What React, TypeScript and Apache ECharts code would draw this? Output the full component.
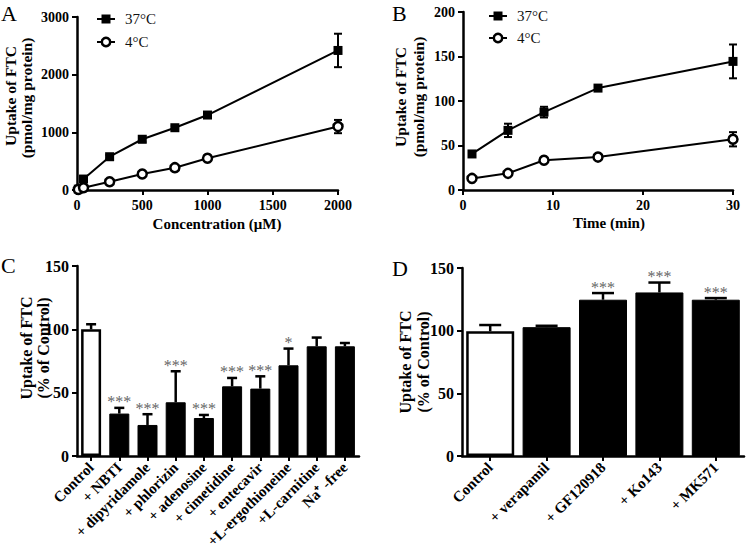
import React, { useEffect, useRef } from "react";
import * as echarts from "echarts";

// ---------- Data ----------
// Panel A: concentration dependence
const concA = [10, 50, 250, 500, 750, 1000, 2000];
const a37 = [15, 190, 577, 880, 1080, 1300, 2420];
const a37Err = [5, 40, 30, 50, 30, 30, 290];
const a4 = [10, 40, 144, 277, 387, 550, 1100];
const a4Err = [5, 10, 20, 20, 25, 50, 115];

// Panel B: time course
const timeB = [1, 5, 9, 15, 30];
const b37 = [40.5, 67, 87.5, 114.5, 144.5];
const b37Err = [2, 7.5, 6, 3, 19];
const b4 = [13, 18.7, 33.4, 37, 57];
const b4Err = [1.5, 1.5, 1.5, 1.5, 8];

// Panel C: inhibitors
const catsC = [
  "Control",
  "+ NBTI",
  "+ dipyridamole",
  "+ phlorizin",
  "+ adenosine",
  "+ cimetidine",
  "+ entecavir",
  "+L-ergothioneine",
  "+L-carnitine",
  "Na\u207A -free",
];
const valsC = [100, 33.5, 24.5, 42.4, 30, 55, 53.2, 71.6, 86.6, 86.6];
const errC = [4, 4.5, 8.5, 24.5, 2.4, 6.6, 9.7, 13.2, 6.9, 2.6];
const starsC = ["", "***", "***", "***", "***", "***", "***", "*", "", ""];

// Panel D: efflux inhibitors
const catsD = ["Control", "+ verapamil", "+ GF120918", "+ Ko143", "+ MK571"];
const valsD = [99.5, 102.8, 124.7, 130.5, 124.7];
const errD = [5, 1.1, 5.3, 7.9, 1.3];
const starsD = ["", "", "***", "***", "***"];

const FONT = '"Liberation Serif", "Times New Roman", serif';

function axisBase(fontSize: number) {
  return {
    axisLine: { show: true, onZero: false, lineStyle: { color: "#000", width: 2.5 } },
    axisTick: { show: true, length: 5, lineStyle: { color: "#000", width: 2 } },
    axisLabel: {
      color: "#000",
      fontFamily: FONT,
      fontWeight: "bold",
      fontSize,
      margin: 8,
      formatter: (v: any) => String(v),
    },
    splitLine: { show: false },
  };
}

function errRenderValue(capHalf: number) {
  return (params: any, api: any) => {
    const x = api.value(0);
    const lo = api.value(1);
    const hi = api.value(2);
    const a = api.coord([x, lo]);
    const b = api.coord([x, hi]);
    const st = { stroke: "#000", lineWidth: 2 };
    return {
      type: "group",
      children: [
        { type: "line", shape: { x1: a[0], y1: a[1], x2: b[0], y2: b[1] }, style: st },
        { type: "line", shape: { x1: a[0] - capHalf, y1: a[1], x2: a[0] + capHalf, y2: a[1] }, style: st },
        { type: "line", shape: { x1: b[0] - capHalf, y1: b[1], x2: b[0] + capHalf, y2: b[1] }, style: st },
      ],
    };
  };
}

function errRenderBar(capHalf: number) {
  return (params: any, api: any) => {
    const x = api.value(0);
    const v = api.value(1);
    const hi = api.value(2);
    const a = api.coord([x, v]);
    const b = api.coord([x, hi]);
    const st = { stroke: "#000", lineWidth: 2.5 };
    return {
      type: "group",
      children: [
        { type: "line", shape: { x1: a[0], y1: a[1], x2: b[0], y2: b[1] }, style: st },
        { type: "line", shape: { x1: b[0] - capHalf, y1: b[1], x2: b[0] + capHalf, y2: b[1] }, style: st },
      ],
    };
  };
}

function starRender(stars: string[]) {
  return (params: any, api: any) => {
    const s = stars[params.dataIndex];
    if (!s) return null;
    const p = api.coord([api.value(0), api.value(1)]);
    return {
      type: "text",
      x: p[0],
      y: p[1] - 6,
      style: {
        text: s,
        fill: "#666",
        fontSize: 16,
        fontFamily: FONT,
        align: "center",
        verticalAlign: "middle",
      },
    };
  };
}

function legendGraphic(x: number, y1: number, y2: number) {
  const tx = x + 28;
  return [
    { type: "line", shape: { x1: x, y1, x2: x + 18, y2: y1 }, style: { stroke: "#000", lineWidth: 2 } },
    { type: "rect", shape: { x: x + 4.5, y: y1 - 4.5, width: 9, height: 9 }, style: { fill: "#000" } },
    { type: "text", x: tx, y: y1, style: { text: "37°C", font: `15px ${FONT}`, fill: "#111", align: "left", verticalAlign: "middle" } },
    { type: "line", shape: { x1: x, y1: y2, x2: x + 18, y2: y2 }, style: { stroke: "#000", lineWidth: 2 } },
    { type: "circle", shape: { cx: x + 9, cy: y2, r: 4.2 }, style: { fill: "#fff", stroke: "#000", lineWidth: 2.5 } },
    { type: "text", x: tx, y: y2, style: { text: "4°C", font: `15px ${FONT}`, fill: "#111", align: "left", verticalAlign: "middle" } },
  ];
}

function vText(x: number, y: number, text: string, size = 15.5) {
  return {
    type: "text",
    x,
    y,
    rotation: Math.PI / 2,
    style: { text, font: `bold ${size}px ${FONT}`, fill: "#000", align: "center", verticalAlign: "middle" },
  };
}

function hText(x: number, y: number, text: string, font: string) {
  return { type: "text", x, y, style: { text, font, fill: "#000", align: "center", verticalAlign: "middle" } };
}

export default function App() {
  const ref = useRef<HTMLDivElement>(null);

  useEffect(() => {
    if (!ref.current) return;
    const chart = echarts.init(ref.current, undefined, { renderer: "svg" });

    const lineStyle = { color: "#000", width: 2 };
    const sq = {
      symbol: "rect",
      symbolSize: 9,
      itemStyle: { color: "#000" },
      lineStyle,
    };
    const circ = {
      symbol: "circle",
      symbolSize: 9,
      itemStyle: { color: "#fff", borderColor: "#000", borderWidth: 2.5 },
      lineStyle,
    };

    const baseAB = axisBase(14);
    const baseCD = axisBase(16);
    const catAxis = (gridIndex: number, data: string[]) => ({
      ...baseCD,
      gridIndex,
      type: "category",
      data,
      axisTick: { ...baseCD.axisTick, alignWithLabel: true, interval: 0 },
      axisLabel: {
        color: "#000",
        fontFamily: FONT,
        fontWeight: "bold",
        fontSize: 15,
        rotate: 45,
        interval: 0,
        margin: 9,
      },
    });

    const option: any = {
      animation: false,
      backgroundColor: "#fff",
      textStyle: { fontFamily: FONT },
      grid: [
        { left: 77, top: 17, width: 261, height: 173 },
        { left: 463, top: 12, width: 270, height: 178 },
        { left: 77, top: 266, width: 282, height: 190 },
        { left: 462, top: 268, width: 282, height: 188 },
      ],
      xAxis: [
        { ...baseAB, gridIndex: 0, type: "value", min: 0, max: 2000, interval: 500 },
        { ...baseAB, gridIndex: 1, type: "value", min: 0, max: 30, interval: 10 },
        catAxis(2, catsC),
        catAxis(3, catsD),
      ],
      yAxis: [
        { ...baseAB, gridIndex: 0, type: "value", min: 0, max: 3000, interval: 1000 },
        { ...baseAB, gridIndex: 1, type: "value", min: 0, max: 200, interval: 50 },
        { ...baseCD, gridIndex: 2, type: "value", min: 0, max: 150, interval: 50 },
        { ...baseCD, gridIndex: 3, type: "value", min: 0, max: 150, interval: 50 },
      ],
      series: [
        // Panel A
        {
          type: "custom", xAxisIndex: 0, yAxisIndex: 0, z: 2,
          renderItem: errRenderValue(4),
          encode: { x: 0, y: [1, 2] },
          data: concA.map((c, i) => [c, a37[i] - a37Err[i], a37[i] + a37Err[i]]),
        },
        {
          type: "custom", xAxisIndex: 0, yAxisIndex: 0, z: 2,
          renderItem: errRenderValue(4),
          encode: { x: 0, y: [1, 2] },
          data: concA.map((c, i) => [c, a4[i] - a4Err[i], a4[i] + a4Err[i]]),
        },
        { ...sq, name: "37°C", type: "line", xAxisIndex: 0, yAxisIndex: 0, z: 3, data: concA.map((c, i) => [c, a37[i]]) },
        { ...circ, name: "4°C", type: "line", xAxisIndex: 0, yAxisIndex: 0, z: 4, data: concA.map((c, i) => [c, a4[i]]) },
        // Panel B
        {
          type: "custom", xAxisIndex: 1, yAxisIndex: 1, z: 2,
          renderItem: errRenderValue(4),
          encode: { x: 0, y: [1, 2] },
          data: timeB.map((t, i) => [t, b37[i] - b37Err[i], b37[i] + b37Err[i]]),
        },
        {
          type: "custom", xAxisIndex: 1, yAxisIndex: 1, z: 2,
          renderItem: errRenderValue(4),
          encode: { x: 0, y: [1, 2] },
          data: timeB.map((t, i) => [t, b4[i] - b4Err[i], b4[i] + b4Err[i]]),
        },
        { ...sq, name: "37°C", type: "line", xAxisIndex: 1, yAxisIndex: 1, z: 3, data: timeB.map((t, i) => [t, b37[i]]) },
        { ...circ, name: "4°C", type: "line", xAxisIndex: 1, yAxisIndex: 1, z: 4, data: timeB.map((t, i) => [t, b4[i]]) },
        // Panel C
        {
          type: "bar", xAxisIndex: 2, yAxisIndex: 2, barWidth: 20, z: 3,
          data: valsC.map((v, i) => ({
            value: v,
            itemStyle: i === 0
              ? { color: "#fff", borderColor: "#000", borderWidth: 2.5 }
              : { color: "#000", borderColor: "#000", borderWidth: 1 },
          })),
        },
        {
          type: "custom", xAxisIndex: 2, yAxisIndex: 2, z: 2,
          renderItem: errRenderBar(5),
          encode: { x: 0, y: [1, 2] },
          data: valsC.map((v, i) => [i, v, v + errC[i]]),
        },
        {
          type: "custom", xAxisIndex: 2, yAxisIndex: 2, z: 4,
          itemStyle: { color: "#666" },
          renderItem: starRender(starsC),
          encode: { x: 0, y: 1 },
          data: valsC.map((v, i) => [i, v + errC[i]]),
        },
        // Panel D
        {
          type: "bar", xAxisIndex: 3, yAxisIndex: 3, barWidth: 48, z: 3,
          data: valsD.map((v, i) => ({
            value: v,
            itemStyle: i === 0
              ? { color: "#fff", borderColor: "#000", borderWidth: 2.5 }
              : { color: "#000", borderColor: "#000", borderWidth: 1 },
          })),
        },
        {
          type: "custom", xAxisIndex: 3, yAxisIndex: 3, z: 2,
          renderItem: errRenderBar(11),
          encode: { x: 0, y: [1, 2] },
          data: valsD.map((v, i) => [i, v, v + errD[i]]),
        },
        {
          type: "custom", xAxisIndex: 3, yAxisIndex: 3, z: 4,
          itemStyle: { color: "#666" },
          renderItem: starRender(starsD),
          encode: { x: 0, y: 1 },
          data: valsD.map((v, i) => [i, v + errD[i]]),
        },
      ],
      graphic: [
        // panel letters
        { type: "text", x: 1, y: 2, style: { text: "A", font: `22px ${FONT}`, fill: "#000" } },
        { type: "text", x: 392, y: 2, style: { text: "B", font: `22px ${FONT}`, fill: "#000" } },
        { type: "text", x: 1, y: 254, style: { text: "C", font: `22px ${FONT}`, fill: "#000" } },
        { type: "text", x: 392, y: 257, style: { text: "D", font: `22px ${FONT}`, fill: "#000" } },
        // y titles
        vText(10, 96, "Uptake of FTC"),
        vText(26, 98, "(pmol/mg protein)"),
        vText(400, 97, "Uptake of FTC"),
        vText(418, 97, "(pmol/mg protein)"),
        vText(26, 348, "Uptake of FTC", 16),
        vText(43, 348, "(% of Control)", 16),
        vText(405, 362, "Uptake of FTC", 16),
        vText(423, 362, "(% of Control)", 16),
        // x titles
        hText(217, 224, "Concentration (\u03BCM)", `bold 15px ${FONT}`),
        hText(609, 223, "Time (min)", `bold 15px ${FONT}`),
        // legends
        ...legendGraphic(97, 19, 42),
        ...legendGraphic(489, 16, 38),
      ],
    };

    chart.setOption(option);
    return () => chart.dispose();
  }, []);

  return (
    <div
      ref={ref}
      style={{ position: "fixed", left: 0, top: 0, width: 750, height: 551, background: "#fff" }}
    />
  );
}
